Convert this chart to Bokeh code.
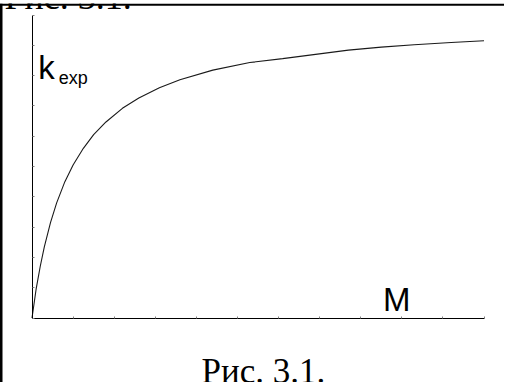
from bokeh.plotting import figure
from bokeh.models import Range1d, LinearAxis, FixedTicker, Label, Span
from bokeh.embed import file_html
from bokeh.resources import INLINE

# ---- data (tick units) ----
M_values = [0, 0.1, 0.2, 0.3, 0.45, 0.6, 0.8, 1.0, 1.25, 1.5, 1.8, 2.2, 2.6,
            3.1, 3.6, 4.4, 5.3, 6.1, 6.9, 7.7, 8.5, 9.3, 10.2, 11.0]
k_values = [0, 0.95, 1.7, 2.35, 3.15, 3.8, 4.5, 5.05, 5.6, 6.05, 6.47, 6.92, 7.26,
            7.6, 7.86, 8.18, 8.43, 8.56, 8.70, 8.84, 8.94, 9.02, 9.09, 9.15]
x_ticks = list(range(0, 12))
y_ticks = list(range(0, 11))
x_label = "M"
y_label_main = "k"
y_label_sub = "exp"
caption = "Рис. 3.1."

# ---- layout (canvas pixels) ----
W, H = 512, 390
FRAME_LEFT, FRAME_TOP = 7, 11
X0_PX, X1_PX = 39.5, 491.5   # where x = first / last tick falls
Y0_PX, Y1_PX = 325.5, 22.5   # where y = first / last tick falls

ux = (X1_PX - X0_PX) / (x_ticks[-1] - x_ticks[0])
x_start = x_ticks[0] - (X0_PX - FRAME_LEFT) / ux
x_end = x_ticks[-1] + (W - X1_PX) / ux
vy = (Y0_PX - Y1_PX) / (y_ticks[-1] - y_ticks[0])
y_end = y_ticks[-1] + (Y1_PX - FRAME_TOP) / vy
y_start = y_ticks[0] - (H - Y0_PX) / vy


def dx(px):
    return x_start + (px - FRAME_LEFT) / ux


def dy(py):
    return y_end - (py - FRAME_TOP) / vy


p = figure(width=W, height=H, output_backend="svg", toolbar_location=None,
           x_range=Range1d(x_start, x_end), y_range=Range1d(y_start, y_end),
           x_axis_type=None, y_axis_type=None,
           min_border_left=FRAME_LEFT, min_border_right=0, min_border_bottom=0,
           min_border_top=FRAME_TOP,
           styles={"margin": "-8px", "vertical-align": "top"})
p.grid.visible = False
p.outline_line_color = None
p.background_fill_color = "white"
p.border_fill_color = "white"

common = dict(fixed_location=0, major_tick_in=2, major_tick_out=0,
              minor_tick_in=0, minor_tick_out=0, major_label_standoff=0,
              axis_line_color="black", axis_line_width=1,
              major_tick_line_color="#808080", major_tick_line_width=1)

yaxis = LinearAxis(bounds=(y_ticks[0], y_ticks[-1]), ticker=FixedTicker(ticks=y_ticks),
                   major_label_overrides={t: "" for t in y_ticks}, **common)
xaxis = LinearAxis(bounds=(x_ticks[0], x_ticks[-1]), ticker=FixedTicker(ticks=x_ticks),
                   major_label_overrides={t: "" for t in x_ticks}, **common)
p.add_layout(yaxis, "left")
p.add_layout(xaxis, "below")

p.line(M_values, k_values, line_color="#1a1a1a", line_width=1.1)

# box border (left and top edges)
p.add_layout(Span(location=dx(8.75), dimension="height", line_color="black", line_width=2.5))
p.add_layout(Span(location=dy(12.2), dimension="width", line_color="black", line_width=2.3))

sans = "Liberation Sans"
serif = "Liberation Serif"
p.add_layout(Label(x=dx(45.8), y=dy(75), text=y_label_main, text_font=sans,
                   text_font_size="33px", text_baseline="alphabetic", text_color="black"))
p.add_layout(Label(x=dx(66.3), y=dy(85.5), text=y_label_sub, text_font=sans,
                   text_font_size="18px", text_baseline="alphabetic", text_color="black"))
p.add_layout(Label(x=dx(390.6), y=dy(307), text=x_label, text_font=sans,
                   text_font_size="33px", text_baseline="alphabetic", text_color="black"))
p.add_layout(Label(x=dx(209), y=dy(379), text=caption, text_font=serif,
                   text_font_size="35px", text_baseline="alphabetic", text_color="black"))
p.add_layout(Label(x=dx(12), y=dy(4.5), text=caption, text_font=serif,
                   text_font_size="36px", text_baseline="alphabetic", text_color="black"))

open("out.html", "w").write(file_html(p, INLINE))
